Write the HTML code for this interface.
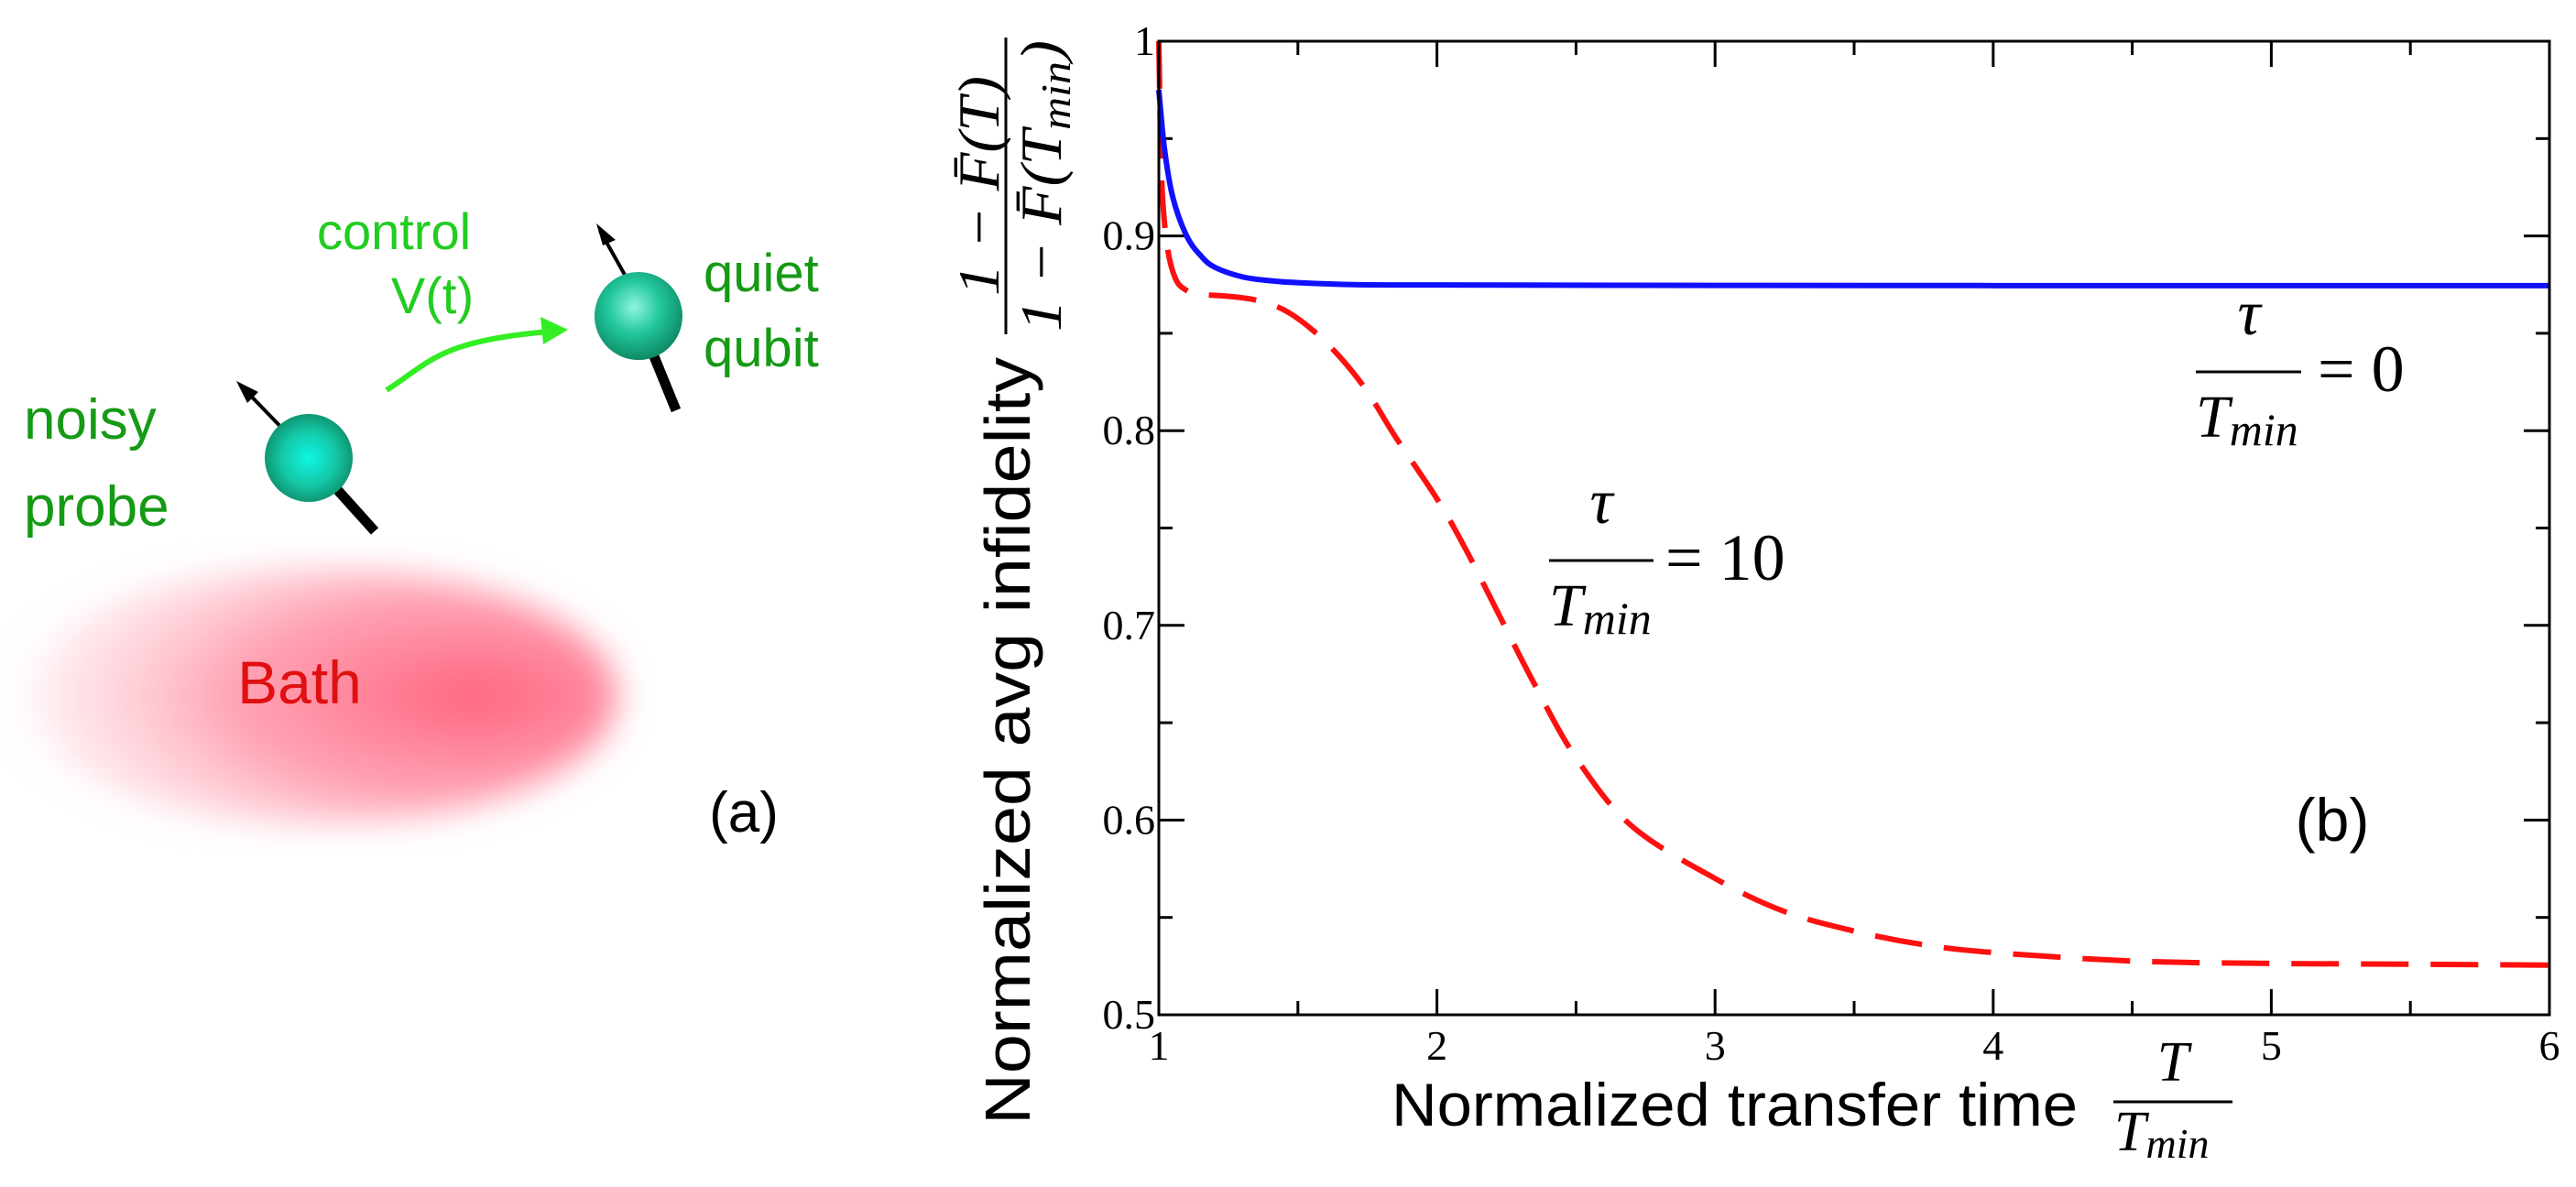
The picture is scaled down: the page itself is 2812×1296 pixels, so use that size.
<!DOCTYPE html>
<html><head><meta charset="utf-8"><style>
html,body{margin:0;padding:0;background:#fff;}
svg{display:block;}
.sans{font-family:"Liberation Sans",Arial,sans-serif;}
.serif{font-family:"Liberation Serif","DejaVu Serif",serif;}
</style></head><body>
<svg id="fig" width="2812" height="1296" viewBox="0 0 2812 1296" xmlns="http://www.w3.org/2000/svg">
<defs>
<radialGradient id="bathGrad" cx="0.76" cy="0.5" r="0.8" fx="0.76" fy="0.5">
<stop offset="0" stop-color="#ff5c78" stop-opacity="0.95"/>
<stop offset="0.5" stop-color="#ff8aa0" stop-opacity="0.78"/>
<stop offset="0.85" stop-color="#ffc0cc" stop-opacity="0.4"/>
<stop offset="1" stop-color="#ffffff" stop-opacity="0"/>
</radialGradient>
<filter id="blur"><feGaussianBlur stdDeviation="18"/></filter>
<radialGradient id="sph1" cx="0.5" cy="0.5" r="0.55">
<stop offset="0" stop-color="#10f5e5"/><stop offset="0.55" stop-color="#14c9a8"/><stop offset="1" stop-color="#0e8a66"/>
</radialGradient>
<radialGradient id="sph2" cx="0.45" cy="0.4" r="0.6">
<stop offset="0" stop-color="#8ff5e0"/><stop offset="0.5" stop-color="#22c79c"/><stop offset="1" stop-color="#0e8a66"/>
</radialGradient>
</defs>

<!-- Panel (a) -->
<g>
<ellipse cx="344" cy="760" rx="330" ry="140" fill="url(#bathGrad)" filter="url(#blur)"/>
<text x="327" y="768" class="sans" font-size="66" fill="#e01010" text-anchor="middle">Bath</text>

<line x1="337" y1="500" x2="409" y2="580" stroke="#000" stroke-width="11"/>
<line x1="320" y1="480" x2="262" y2="420" stroke="#000" stroke-width="4"/>
<path d="M258,416 L282,428 L270,440 z" fill="#000"/>
<circle cx="337" cy="500" r="48" fill="url(#sph1)"/>

<line x1="696" y1="345" x2="738" y2="448" stroke="#000" stroke-width="11"/>
<line x1="682" y1="300" x2="655" y2="252" stroke="#000" stroke-width="4"/>
<path d="M651,244 L672,262 L658,268 z" fill="#000"/>
<circle cx="697" cy="345" r="48" fill="url(#sph2)"/>

<path d="M422,426 C470,395 480,372 600,362" fill="none" stroke="#33ee22" stroke-width="6"/>
<path d="M620,360 L590,346 L593,376 z" fill="#33ee22"/>

<text x="430" y="272" class="sans" font-size="56" fill="#22cc22" text-anchor="middle">control</text>
<text x="472" y="342" class="sans" font-size="56" fill="#22cc22" text-anchor="middle">V(t)</text>
<text x="768" y="318" class="sans" font-size="58" fill="#159a15">quiet</text>
<text x="768" y="400" class="sans" font-size="58" fill="#159a15">qubit</text>
<text x="26" y="479" class="sans" font-size="62" fill="#159a15">noisy</text>
<text x="26" y="574" class="sans" font-size="62" fill="#159a15">probe</text>
<text x="812" y="908" class="sans" font-size="62" fill="#000" text-anchor="middle">(a)</text>
</g>

<!-- Panel (b) -->
<g id="plot"></g>

<g transform="translate(1124,809) rotate(-90)">
<text x="0" y="0" class="sans" font-size="70" fill="#000" text-anchor="middle" textLength="838" lengthAdjust="spacingAndGlyphs">Normalized avg infidelity</text>
</g>
<g transform="translate(1098,203) rotate(-90)">
<text x="0" y="-8" class="serif" font-size="64" font-style="italic" text-anchor="middle" textLength="240" lengthAdjust="spacingAndGlyphs">1 − F̄(T)</text>
<line x1="-162" y1="0" x2="162" y2="0" stroke="#000" stroke-width="3"/>
<text x="0" y="60" class="serif" font-size="64" font-style="italic" text-anchor="middle" textLength="318" lengthAdjust="spacingAndGlyphs">1 − F̄(T<tspan font-size="46" dy="10">min</tspan><tspan dy="-10">)</tspan></text>
</g>

<text x="1519" y="1229" class="sans" font-size="66" fill="#000" textLength="749" lengthAdjust="spacingAndGlyphs">Normalized transfer time</text>
<g>
<text x="2372" y="1180" class="serif" font-size="62" font-style="italic" text-anchor="middle">T</text>
<line x1="2307" y1="1203" x2="2437" y2="1203" stroke="#000" stroke-width="3"/>
<text x="2308" y="1256" class="serif" font-size="62" font-style="italic">T<tspan font-size="46" dy="8">min</tspan></text>
</g>

<g>
<text x="2455" y="365" class="serif" font-size="70" font-style="italic" text-anchor="middle">τ</text>
<line x1="2397" y1="406" x2="2512" y2="406" stroke="#000" stroke-width="3"/>
<text x="2397" y="477" class="serif" font-size="66" font-style="italic">T<tspan font-size="50" dy="9">min</tspan></text>
<text x="2530" y="427" class="serif" font-size="72">= 0</text>
</g>
<g>
<text x="1748" y="571" class="serif" font-size="70" font-style="italic" text-anchor="middle">τ</text>
<line x1="1691" y1="612" x2="1805" y2="612" stroke="#000" stroke-width="3"/>
<text x="1691" y="683" class="serif" font-size="66" font-style="italic">T<tspan font-size="50" dy="9">min</tspan></text>
<text x="1818" y="633" class="serif" font-size="72">= 10</text>
</g>
<text x="2546" y="918" class="sans" font-size="66" text-anchor="middle">(b)</text>
</svg>
<script>
const xTicks = [1, 2, 3, 4, 5, 6];
const yTicks = [0.5, 0.6, 0.7, 0.8, 0.9, 1];
const xTickLabels = ["1", "2", "3", "4", "5", "6"];
const yTickLabels = ["0.5", "0.6", "0.7", "0.8", "0.9", "1"];
const blueX = [1, 1.02, 1.05, 1.1, 1.15, 1.2, 1.3, 1.4, 1.5, 1.7, 2, 3, 4, 5, 6];
const blueY = [0.975, 0.945, 0.92, 0.9, 0.89, 0.884, 0.879, 0.877, 0.876, 0.875, 0.8748, 0.8746, 0.8745, 0.8745, 0.8745];
const redX = [1, 1.01, 1.03, 1.06, 1.1, 1.15, 1.25, 1.35, 1.45, 1.55, 1.65, 1.75, 1.85, 2, 2.1, 2.2, 2.35, 2.5, 2.7, 3, 3.25, 3.5, 3.75, 4, 4.5, 5, 5.5, 6];
const redY = [1, 0.93, 0.895, 0.878, 0.872, 0.870, 0.869, 0.867, 0.862, 0.852, 0.838, 0.82, 0.797, 0.765, 0.74, 0.712, 0.67, 0.632, 0.597, 0.57, 0.553, 0.543, 0.536, 0.532, 0.5276, 0.5264, 0.526, 0.5255];

const L = 1265, R = 2783, T = 45, B = 1108;
const xMin = 1, xMax = 6, yMin = 0.5, yMax = 1;
function sx(v){ return L + (v - xMin) / (xMax - xMin) * (R - L); }
function sy(v){ return B - (v - yMin) / (yMax - yMin) * (B - T); }
const NS = "http://www.w3.org/2000/svg";
const g = document.getElementById("plot");
function mk(tag, attrs){ const e = document.createElementNS(NS, tag); for (const k in attrs) e.setAttribute(k, attrs[k]); g.appendChild(e); return e; }

function smoothPath(xs, ys){
  const p = xs.map((x, i) => [sx(x), sy(ys[i])]);
  let d = "M" + p[0][0] + "," + p[0][1];
  for (let i = 0; i < p.length - 1; i++){
    const p0 = p[Math.max(0, i-1)], p1 = p[i], p2 = p[i+1], p3 = p[Math.min(p.length-1, i+2)];
    const c1 = [p1[0] + (p2[0]-p0[0])/6, p1[1] + (p2[1]-p0[1])/6];
    const c2 = [p2[0] - (p3[0]-p1[0])/6, p2[1] - (p3[1]-p1[1])/6];
    d += " C" + c1[0] + "," + c1[1] + " " + c2[0] + "," + c2[1] + " " + p2[0] + "," + p2[1];
  }
  return d;
}

for (let v = 1; v <= 6.001; v += 0.5){
  const major = Math.abs(v - Math.round(v)) < 1e-6;
  const len = major ? 28 : 15;
  const t1 = mk("line", {x1: sx(v), y1: B, x2: sx(v), y2: B - len, stroke: "#000", "stroke-width": 3});
  
  
  const t2 = mk("line", {x1: sx(v), y1: T, x2: sx(v), y2: T + len, stroke: "#000", "stroke-width": 3});
  
  
}
for (let k = 0; k <= 10; k++){
  const v = 0.5 + k * 0.05;
  const major = k % 2 === 0;
  const len = major ? 28 : 15;
  const t1 = mk("line", {x1: L, y1: sy(v), x2: L + len, y2: sy(v), stroke: "#000", "stroke-width": 3});
  
  
  const t2 = mk("line", {x1: R, y1: sy(v), x2: R - len, y2: sy(v), stroke: "#000", "stroke-width": 3});
  
  
}
xTicks.forEach((v, i) => {
  const t = mk("text", {x: sx(v), y: 1157, "text-anchor": "middle", "font-size": 46, "class": "serif"});
  t.textContent = xTickLabels[i];
  
  
});
yTicks.forEach((v, i) => {
  const t = mk("text", {x: L - 4, y: sy(v) + 15, "text-anchor": "end", "font-size": 46, "class": "serif"});
  t.textContent = yTickLabels[i];
  
  
});

const red = mk("path", {d: smoothPath(redX, redY), fill: "none", stroke: "#ff1010", "stroke-width": 6, "stroke-dasharray": "52 24"});


const blue = mk("path", {d: smoothPath(blueX, blueY), fill: "none", stroke: "#1010ff", "stroke-width": 6});



const frame = mk("rect", {x: L, y: T, width: R - L, height: B - T, fill: "none", stroke: "#000", "stroke-width": 3});


</script>
</body></html>
